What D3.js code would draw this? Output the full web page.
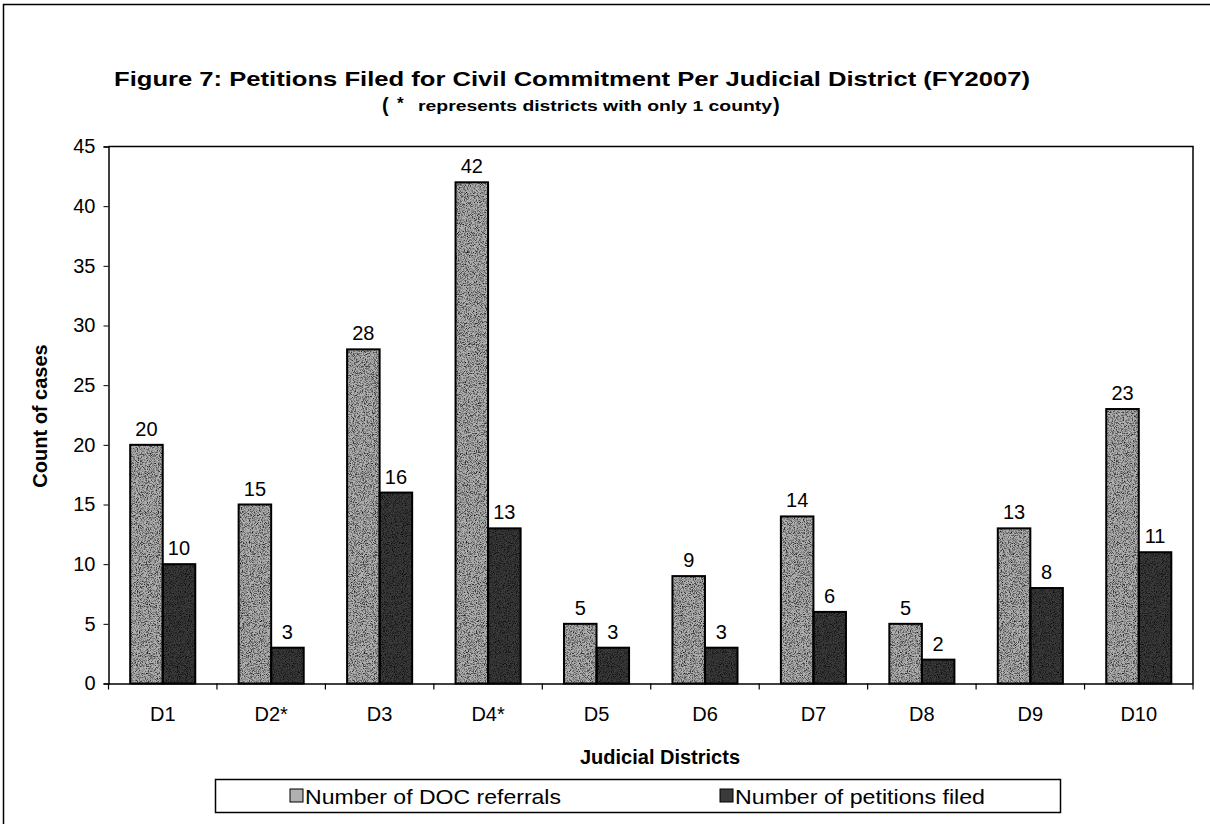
<!DOCTYPE html>
<html>
<head>
<meta charset="utf-8">
<script src="https://cdn.jsdelivr.net/npm/d3@7"></script>
<style>
  html, body { margin: 0; padding: 0; background: #fff; }
  svg { display: block; font-family: "Liberation Sans", Arial, sans-serif; }
</style>
</head>
<body>
<svg id="chart" width="1210" height="824"></svg>
<script>
const categories = ["D1", "D2*", "D3", "D4*", "D5", "D6", "D7", "D8", "D9", "D10"];
const docReferrals = [20, 15, 28, 42, 5, 9, 14, 5, 13, 23];
const petitionsFiled = [10, 3, 16, 13, 3, 3, 6, 2, 8, 11];
const seriesNames = ["Number of DOC referrals", "Number of petitions filed"];
const yTicks = [0, 5, 10, 15, 20, 25, 30, 35, 40, 45];

const svg = d3.select("#chart");
const colors = ["#b0b0b0", "#3a3a3a"];
const FONT = "Liberation Sans, Arial, sans-serif";

// speckle texture (scanned look)
const defs = svg.append("defs");
const f = defs.append("filter").attr("id", "grain")
  .attr("x", 0).attr("y", 0).attr("width", 1).attr("height", 1);
f.append("feTurbulence").attr("type", "fractalNoise").attr("baseFrequency", 1.1)
  .attr("numOctaves", 2).attr("seed", 7).attr("result", "n");
f.append("feColorMatrix").attr("in", "n").attr("type", "matrix")
  .attr("values", "0 0 0 0 0  0 0 0 0 0  0 0 0 0 0  0 0 0 2.2 -0.95").attr("result", "dots");
f.append("feComposite").attr("in", "dots").attr("in2", "SourceGraphic").attr("operator", "in");

// outer frame
svg.append("rect").attr("x", 3.5).attr("y", 4.5).attr("width", 1230).attr("height", 840)
  .attr("fill", "none").attr("stroke", "#000").attr("stroke-width", 1.5);

const plot = { left: 108.5, right: 1193, top: 146.5, bottom: 683.5 };

const x0 = d3.scaleBand().domain(categories).range([plot.left, plot.right]).paddingInner(0).paddingOuter(0);
const x1 = d3.scaleBand().domain([0, 1]).range([x0.bandwidth() * 0.2, x0.bandwidth() * 0.8]);
const y = d3.scaleLinear().domain([0, 45]).range([plot.bottom, plot.top]);

// plot frame (top and right)
svg.append("path")
  .attr("d", `M${plot.left},${plot.top}H${plot.right}V${plot.bottom}`)
  .attr("fill", "none").attr("stroke", "#000").attr("stroke-width", 1.5);

// titles
svg.append("text").attr("x", 114).attr("y", 86)
  .attr("textLength", 916).attr("lengthAdjust", "spacingAndGlyphs")
  .attr("font-size", 21).attr("font-weight", "bold")
  .text("Figure 7:  Petitions Filed for Civil Commitment Per Judicial District (FY2007)");

const sub = svg.append("g").attr("font-weight", "bold");
sub.append("text").attr("x", 382).attr("y", 112).attr("font-size", 20).text("(");
sub.append("text").attr("x", 397).attr("y", 109).attr("font-size", 17).text("*");
sub.append("text").attr("x", 418).attr("y", 111).attr("font-size", 15)
  .attr("textLength", 354).attr("lengthAdjust", "spacingAndGlyphs")
  .text("represents districts with only 1 county");
sub.append("text").attr("x", 773).attr("y", 112).attr("font-size", 20).text(")");

// y axis
const yAxis = d3.axisLeft(y).tickValues(yTicks).tickSize(5).tickPadding(8);
const gy = svg.append("g").attr("transform", `translate(${plot.left},0)`).call(yAxis);
gy.select(".domain").attr("stroke-width", 1.5);
gy.selectAll("text").attr("font-size", 20).attr("font-family", FONT).attr("fill", "#000");

// x axis
const xAxis = d3.axisBottom(x0).tickSize(0).tickPadding(23);
const gx = svg.append("g").attr("transform", `translate(0,${plot.bottom})`).call(xAxis);
gx.select(".domain").attr("stroke-width", 1.5);
gx.selectAll("text").attr("font-size", 20).attr("font-family", FONT).attr("fill", "#000");
// category boundary ticks
const bounds = categories.map(c => x0(c)).concat([x0(categories[categories.length - 1]) + x0.bandwidth()]);
svg.append("g").selectAll("line").data(bounds).join("line")
  .attr("x1", d => d).attr("x2", d => d)
  .attr("y1", plot.bottom).attr("y2", plot.bottom + 6)
  .attr("stroke", "#000").attr("stroke-width", 1.2);

// bars
const rows = categories.map((c, i) => ({ cat: c, vals: [docReferrals[i], petitionsFiled[i]] }));
const groups = svg.append("g").selectAll("g").data(rows).join("g")
  .attr("transform", d => `translate(${x0(d.cat)},0)`);

const barData = d => d.vals.map((v, k) => ({ v, k }));
groups.selectAll("rect.bar").data(barData).join("rect")
  .attr("class", "bar")
  .attr("x", d => x1(d.k))
  .attr("y", d => y(d.v))
  .attr("width", x1.bandwidth())
  .attr("height", d => y(0) - y(d.v))
  .attr("fill", d => colors[d.k]);
groups.selectAll("rect.grain").data(barData).join("rect")
  .attr("class", "grain")
  .attr("x", d => x1(d.k))
  .attr("y", d => y(d.v))
  .attr("width", x1.bandwidth())
  .attr("height", d => y(0) - y(d.v))
  .attr("fill", "#000")
  .attr("filter", "url(#grain)");
groups.selectAll("rect.edge").data(barData).join("rect")
  .attr("class", "edge")
  .attr("x", d => x1(d.k))
  .attr("y", d => y(d.v))
  .attr("width", x1.bandwidth())
  .attr("height", d => y(0) - y(d.v))
  .attr("fill", "none")
  .attr("stroke", "#000").attr("stroke-width", 2);

groups.selectAll("text.lbl").data(barData).join("text")
  .attr("class", "lbl")
  .attr("x", d => x1(d.k) + x1.bandwidth() / 2)
  .attr("y", d => y(d.v) - 9)
  .attr("text-anchor", "middle")
  .attr("font-size", 20)
  .text(d => d.v);

// axis titles
svg.append("text")
  .attr("transform", `translate(47,${416}) rotate(-90)`)
  .attr("text-anchor", "middle").attr("font-size", 20).attr("font-weight", "bold")
  .text("Count of cases");

svg.append("text").attr("x", 660).attr("y", 764).attr("text-anchor", "middle")
  .attr("font-size", 20).attr("font-weight", "bold")
  .text("Judicial Districts");

// legend
svg.append("rect").attr("x", 215.5).attr("y", 779.5).attr("width", 845).attr("height", 33)
  .attr("fill", "#fff").attr("stroke", "#000").attr("stroke-width", 1.5);
const legendX = [290, 720];
const lg = svg.append("g").selectAll("g").data(seriesNames).join("g")
  .attr("transform", (d, i) => `translate(${legendX[i]},789)`);
lg.append("rect").attr("width", 13).attr("height", 13)
  .attr("fill", (d, i) => colors[i]).attr("stroke", "#000").attr("stroke-width", 1);
lg.append("text").attr("x", 15).attr("y", 15).attr("font-size", 21)
  .attr("textLength", (d, i) => [256, 250][i]).attr("lengthAdjust", "spacingAndGlyphs")
  .text(d => d);
</script>
</body>
</html>
